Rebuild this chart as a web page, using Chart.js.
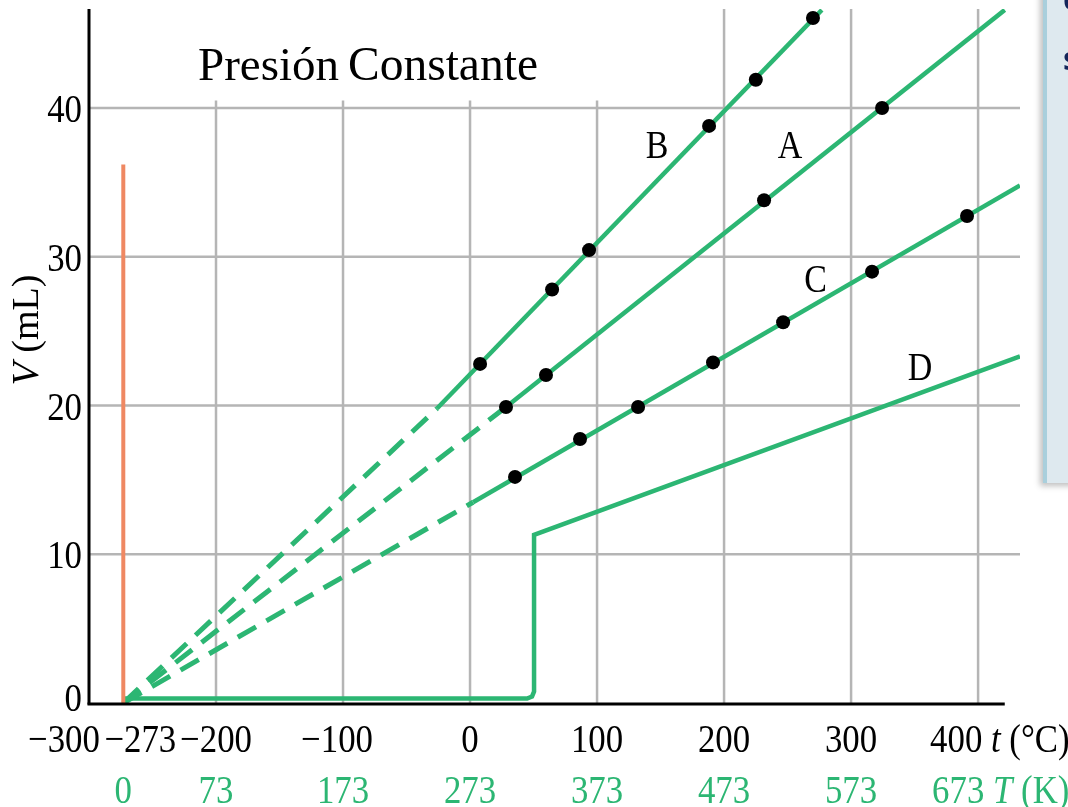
<!DOCTYPE html>
<html>
<head>
<meta charset="utf-8">
<script src="https://cdn.jsdelivr.net/npm/chart.js@4.4.1/dist/chart.umd.min.js"></script>
<style>
  html, body { margin:0; padding:0; background:#fff; }
  #wrap { position:relative; width:1068px; height:807px; overflow:hidden; }
  #panel { position:absolute; left:1043px; top:-10px; width:60px; height:493px;
           background:#dee9ef; border-left:4px solid #a9cfdc; box-shadow:-3px 3px 6px rgba(0,0,0,0.25); }
  .ptxt { position:absolute; left:1063px; font:bold 32px "Open Sans", "Noto Sans", sans-serif; color:#14265a; }
</style>
</head>
<body>
<div id="wrap">
  <canvas id="c" width="1068" height="807"></canvas>
  <div id="panel"></div>
  <span class="ptxt" style="top:-24px">c</span>
  <span class="ptxt" style="top:36px">s</span>
</div>
<script>
// ---- tick values / labels ----
const tTicks = [-300, -273, -200, -100, 0, 100, 200, 300, 400];
const tTickLabels = ['\u2212300', '\u2212273', '\u2212200', '\u2212100', '0', '100', '200', '300', '400'];
const kTicks = [0, 73, 173, 273, 373, 473, 573, 673];
const vTicks = [0, 10, 20, 30, 40];
const gridT = [-200, -100, 0, 100, 200, 300, 400];

// ---- series (t in °C, V in mL) ----
const solidB_t = [-26, 277];     const solidB_V = [19.8, 46.6];
const dashB_t  = [-273, -26];    const dashB_V  = [0, 19.8];
const solidA_t = [28.3, 421];    const solidA_V = [19.9, 46.6];
const dashA_t  = [-273, 28.3];   const dashA_V  = [0, 19.9];
const solidC_t = [2.4, 433];     const solidC_V = [13.5, 34.8];
const dashC_t  = [-273, 2.4];    const dashC_V  = [0, 13.5];
const lineD_t  = [-273, 44.9, 48.8, 50.4, 50.4, 433];
const lineD_V  = [0.3, 0.3, 0.44, 0.77, 11.3, 23.3];
const zeroLine_t = [-273, -273]; const zeroLine_V = [0, 36.2];

// ---- measured points ----
const ptsB_t = [7.9, 64.6, 93.7, 188.2, 225, 270];
const ptsB_V = [22.8, 27.8, 30.45, 38.8, 41.9, 46.05];
const ptsA_t = [28.3, 59.8, 231.5, 324.4];
const ptsA_V = [19.9, 22.05, 33.8, 40.0];
const ptsC_t = [35.4, 86.6, 132.3, 191.3, 246.5, 316.5, 391.3];
const ptsC_V = [15.2, 17.75, 19.9, 22.9, 25.6, 29.0, 32.74];

// ---- line labels ----
const lineLabels = ['B', 'A', 'C', 'D'];
const lineLabel_t = [147.2, 252, 272, 354.3];
const lineLabel_V = [37.5, 37.5, 28.5, 22.6];

const GREEN = '#2cb673';
const zip = (ts, vs) => ts.map((t, i) => ({ x: t, y: vs[i] }));

const SERIF = '"Liberation Serif", "Times New Roman", serif';

function drawRuns(ctx, runs, x, y, size, color, align, sx) {
  ctx.save();
  ctx.fillStyle = color;
  ctx.textBaseline = 'alphabetic';
  ctx.textAlign = 'left';
  let w = 0;
  runs.forEach(r => { ctx.font = (r.i ? 'italic ' : '') + size + 'px ' + SERIF; r.w = ctx.measureText(r.t).width; w += r.w; });
  let start = x;
  if (align === 'center') start = x - w * sx / 2;
  else if (align === 'right') start = x - w * sx;
  ctx.translate(start, y);
  ctx.scale(sx, 1);
  let cx = 0;
  runs.forEach(r => { ctx.font = (r.i ? 'italic ' : '') + size + 'px ' + SERIF; ctx.fillText(r.t, cx, 0); cx += r.w; });
  ctx.restore();
}

const overlay = {
  id: 'overlay',
  beforeDatasetsDraw(chart) {
    const { ctx, chartArea: a, scales: { x, y } } = chart;
    ctx.save();
    ctx.strokeStyle = '#b5b5b5';
    ctx.lineWidth = 2.5;
    vTicks.forEach(v => {
      if (v === 0) return;
      const py = y.getPixelForValue(v);
      ctx.beginPath(); ctx.moveTo(a.left, py); ctx.lineTo(a.right, py); ctx.stroke();
    });
    gridT.forEach(t => {
      const px = x.getPixelForValue(t);
      const top = t >= 200 ? a.top : y.getPixelForValue(40.5);
      ctx.beginPath(); ctx.moveTo(px, top); ctx.lineTo(px, a.bottom); ctx.stroke();
    });
    ctx.restore();
  },
  afterDatasetsDraw(chart) {
    const { ctx, chartArea: a, scales: { x, y } } = chart;
    ctx.save();
    ctx.strokeStyle = '#000';
    ctx.lineWidth = 3;
    ctx.beginPath(); ctx.moveTo(a.left, a.top); ctx.lineTo(a.left, a.bottom + 1.5); ctx.stroke();
    ctx.beginPath(); ctx.moveTo(a.left - 1.5, a.bottom + 1); ctx.lineTo(x.getPixelForValue(421), a.bottom + 1); ctx.stroke();
    ctx.restore();

    const SX = 0.87;
    vTicks.forEach(v => {
      const py = y.getPixelForValue(v);
      drawRuns(ctx, [{ t: String(v) }], 82, v === 0 ? py + 8 : py + 14, 40, '#000', 'right', SX);
    });
    const offs = { '-300': -25, '-273': 17, '-100': -6 };
    tTicks.forEach((t, i) => {
      const px = x.getPixelForValue(t);
      if (i === tTicks.length - 1) {
        drawRuns(ctx, [{ t: tTickLabels[i] + ' ' }, { t: 't', i: true }, { t: ' (\u00B0C)' }], px - 48, 752, 40, '#000', 'left', SX);
      } else {
        drawRuns(ctx, [{ t: tTickLabels[i] }], px + (offs[String(t)] || 0), 752, 40, '#000', 'center', SX);
      }
    });
    kTicks.forEach((k, i) => {
      const px = x.getPixelForValue(k - 273);
      if (i === kTicks.length - 1) {
        drawRuns(ctx, [{ t: String(k) + ' ' }, { t: 'T', i: true }, { t: ' (K)' }], px - 46, 803, 40, GREEN, 'left', SX);
      } else {
        drawRuns(ctx, [{ t: String(k) }], px, 803, 40, GREEN, 'center', SX);
      }
    });
    lineLabels.forEach((L, i) => {
      drawRuns(ctx, [{ t: L }], x.getPixelForValue(lineLabel_t[i]), y.getPixelForValue(lineLabel_V[i]) + 13, 40, '#000', 'center', 0.85);
    });
    drawRuns(ctx, [{ t: 'Presi\u00F3n' }], 198, 80, 47, '#000', 'left', 1);
    drawRuns(ctx, [{ t: 'Constante' }], 348, 80, 47.5, '#000', 'left', 1);
    ctx.save();
    ctx.translate(38, 330);
    ctx.rotate(-Math.PI / 2);
    drawRuns(ctx, [{ t: 'V', i: true }, { t: ' (mL)' }], 0, 0, 38, '#000', 'center', 1);
    ctx.restore();
  }
};

const lineDs = (data, color, dash, width) => ({
  data, showLine: true, borderColor: color, backgroundColor: color, borderWidth: width || 4.5,
  borderDash: dash || [], pointRadius: 0, pointHoverRadius: 0, tension: 0, order: 2,
  borderCapStyle: 'butt', borderJoinStyle: 'miter', fill: false
});

new Chart(document.getElementById('c'), {
  type: 'scatter',
  data: {
    datasets: [
      { data: zip(ptsB_t, ptsB_V).concat(zip(ptsA_t, ptsA_V), zip(ptsC_t, ptsC_V)), order: 0,
        showLine: false, pointRadius: 7, pointHoverRadius: 7, backgroundColor: '#000', borderColor: '#000', borderWidth: 0 },
      lineDs(zip(zeroLine_t, zeroLine_V), '#ef8862', null, 4),
      lineDs(zip(dashB_t, dashB_V), GREEN, [21, 12], 5),
      lineDs(zip(dashA_t, dashA_V), GREEN, [21, 12], 5),
      lineDs(zip(dashC_t, dashC_V), GREEN, [21, 12], 5),
      lineDs(zip(solidB_t, solidB_V), GREEN),
      lineDs(zip(solidA_t, solidA_V), GREEN),
      lineDs(zip(solidC_t, solidC_V), GREEN),
      lineDs(zip(lineD_t, lineD_V), GREEN)
    ]
  },
  options: {
    responsive: false,
    animation: false,
    events: [],
    layout: { padding: { left: 89, right: 48, top: 9, bottom: 104 } },
    plugins: { legend: { display: false }, tooltip: { enabled: false } },
    scales: {
      x: { type: 'linear', min: -300, max: 433, display: false },
      y: { type: 'linear', min: 0, max: 46.66, display: false }
    }
  },
  plugins: [overlay]
});
</script>
</body>
</html>
